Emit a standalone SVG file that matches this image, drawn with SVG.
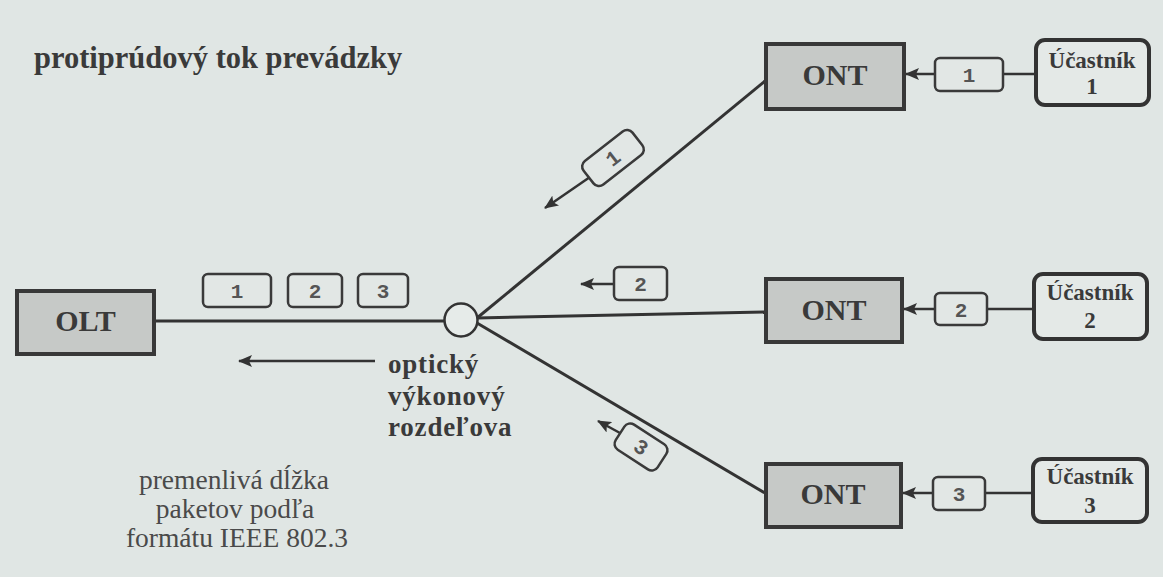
<svg xmlns="http://www.w3.org/2000/svg" width="1163" height="577" viewBox="0 0 1163 577">
<style>
.bg{fill:#e0e6e4}
.dev{fill:#c6c9c7;stroke:#383838;stroke-width:4}
.usr{fill:#e4e9e7;stroke:#333;stroke-width:4}
.pkt{fill:#e2e7e5;stroke:#3a3a3a;stroke-width:2.5}
.ln{stroke:#333;stroke-width:3;fill:none}
.arr{stroke:#333;stroke-width:2.5;fill:none}
.tb{font-family:"Liberation Serif",serif;font-weight:bold;fill:#3a3a3a}
.tr{font-family:"Liberation Serif",serif;fill:#4a4a4a}
.tm{font-family:"Liberation Mono",monospace;fill:#555;font-size:21px;font-weight:bold}
</style>
<defs>
<marker id="ah" viewBox="0 0 14 12" refX="13" refY="6" markerWidth="14" markerHeight="12" markerUnits="userSpaceOnUse" orient="auto">
<path d="M0,0 L14,6 L0,12 L3,6 Z" fill="#333"/>
</marker>
</defs>
<rect class="bg" x="0" y="0" width="1163" height="577"/>
<text class="tb" x="34" y="68" font-size="30.5">protiprúdový tok prevádzky</text>

<g id="connectors">
<line class="ln" x1="155" y1="321" x2="445" y2="321"/>
<line class="ln" x1="477" y1="318" x2="765" y2="81"/>
<line class="ln" x1="477" y1="318" x2="765" y2="312"/>
<line class="ln" x1="477" y1="323" x2="765" y2="493"/>
<line class="arr" x1="375" y1="361" x2="239" y2="361" marker-end="url(#ah)" stroke-width="3"/>
<line class="arr" x1="935" y1="74" x2="906" y2="74" marker-end="url(#ah)"/>
<line class="arr" x1="1003" y1="74" x2="1035" y2="74"/>
<line class="arr" x1="935" y1="309" x2="904" y2="309" marker-end="url(#ah)"/>
<line class="arr" x1="987" y1="309" x2="1033" y2="309"/>
<line class="arr" x1="933" y1="493" x2="903" y2="493" marker-end="url(#ah)"/>
<line class="arr" x1="985" y1="493" x2="1032" y2="493"/>
<line class="arr" x1="614" y1="284" x2="581" y2="284" marker-end="url(#ah)"/>
<line class="arr" x1="590" y1="177" x2="545" y2="208" marker-end="url(#ah)"/>
<line class="arr" x1="620" y1="433" x2="598" y2="421" marker-end="url(#ah)"/>
</g>

<g id="olt">
<rect class="dev" x="17" y="291" width="137" height="63"/>
<text class="tb" x="85.5" y="331" font-size="30" text-anchor="middle">OLT</text>
</g>

<g id="splitter">
<circle cx="461" cy="320" r="16.5" fill="#e6ebe9" stroke="#333" stroke-width="2.5"/>
</g>

<g id="bus-packets">
<rect class="pkt" x="203" y="274" width="68" height="33" rx="5"/>
<text class="tm" x="237" y="298" text-anchor="middle">1</text>
<rect class="pkt" x="288" y="274" width="54" height="33" rx="5"/>
<text class="tm" x="315" y="298" text-anchor="middle">2</text>
<rect class="pkt" x="358" y="274" width="50" height="33" rx="5"/>
<text class="tm" x="383" y="298" text-anchor="middle">3</text>
</g>

<g id="label-splitter">
<text class="tb" x="388" y="373" font-size="27" letter-spacing="0.8">optický</text>
<text class="tb" x="388" y="405" font-size="27" letter-spacing="0.8">výkonový</text>
<text class="tb" x="388" y="436" font-size="27" letter-spacing="0.8">rozdeľova</text>
</g>

<g id="label-format">
<text class="tr" x="234" y="489" font-size="27.5" text-anchor="middle">premenlivá dĺžka</text>
<text class="tr" x="235" y="518" font-size="27.5" text-anchor="middle">paketov podľa</text>
<text class="tr" x="237" y="547" font-size="27.5" text-anchor="middle">formátu IEEE 802.3</text>
</g>

<g id="pkt-up1" transform="translate(613,158) rotate(-38)">
<rect class="pkt" x="-31" y="-15" width="62" height="30" rx="7"/>
<text class="tm" x="0" y="7" text-anchor="middle">1</text>
</g>
<g id="pkt-up2">
<rect class="pkt" x="614" y="267" width="53" height="33" rx="5"/>
<text class="tm" x="640.5" y="291" text-anchor="middle">2</text>
</g>
<g id="pkt-up3" transform="translate(641,447) rotate(33)">
<rect class="pkt" x="-25" y="-15" width="50" height="30" rx="7"/>
<text class="tm" x="0" y="7" text-anchor="middle">3</text>
</g>

<g id="ont1">
<rect class="dev" x="766" y="44" width="138" height="65"/>
<text class="tb" x="835" y="85" font-size="30" text-anchor="middle">ONT</text>
</g>
<g id="ont2">
<rect class="dev" x="766" y="279" width="136" height="63"/>
<text class="tb" x="834" y="320" font-size="30" text-anchor="middle">ONT</text>
</g>
<g id="ont3">
<rect class="dev" x="766" y="464" width="135" height="63"/>
<text class="tb" x="833" y="504" font-size="30" text-anchor="middle">ONT</text>
</g>

<g id="up1">
<rect class="pkt" x="935" y="58" width="68" height="33" rx="5"/>
<text class="tm" x="969" y="82" text-anchor="middle">1</text>
</g>
<g id="up2">
<rect class="pkt" x="935" y="293" width="52" height="32" rx="5"/>
<text class="tm" x="961" y="317" text-anchor="middle">2</text>
</g>
<g id="up3">
<rect class="pkt" x="933" y="477" width="52" height="33" rx="5"/>
<text class="tm" x="959" y="501" text-anchor="middle">3</text>
</g>

<g id="user1">
<rect class="usr" x="1036" y="40" width="113" height="65" rx="9"/>
<text class="tb" x="1092" y="68" font-size="23" text-anchor="middle">Účastník</text>
<text class="tb" x="1092" y="94" font-size="23" text-anchor="middle">1</text>
</g>
<g id="user2">
<rect class="usr" x="1034" y="274" width="113" height="65" rx="9"/>
<text class="tb" x="1090" y="300" font-size="23" text-anchor="middle">Účastník</text>
<text class="tb" x="1090" y="328" font-size="23" text-anchor="middle">2</text>
</g>
<g id="user3">
<rect class="usr" x="1033" y="459" width="114" height="63" rx="9"/>
<text class="tb" x="1090" y="484" font-size="23" text-anchor="middle">Účastník</text>
<text class="tb" x="1090" y="513" font-size="23" text-anchor="middle">3</text>
</g>
</svg>
